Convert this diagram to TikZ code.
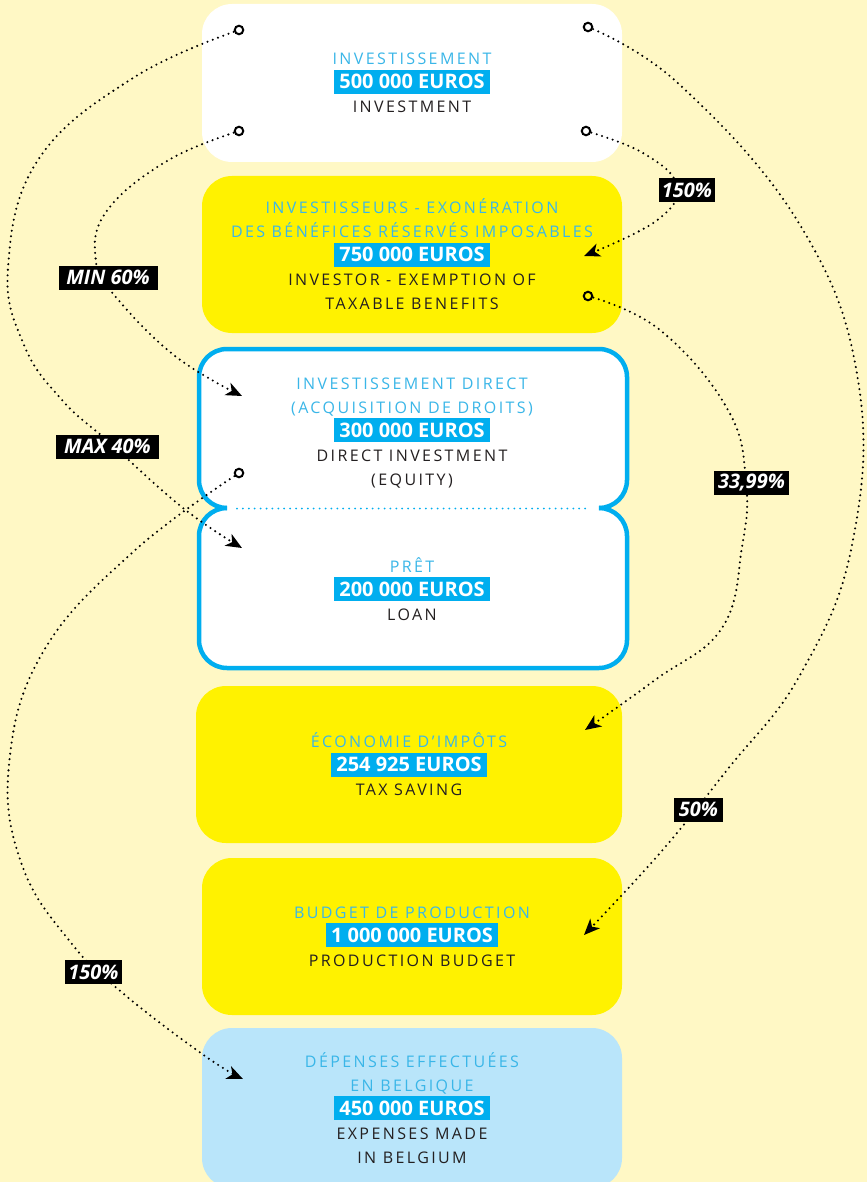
\documentclass[tikz,border=0pt]{standalone}
\usepackage{fontspec}
\setmainfont{Open Sans}
\newfontfamily\spaced[LetterSpace=15]{Open Sans}
\usetikzlibrary{arrows.meta}
\definecolor{bgc}{HTML}{FFF8C5}
\definecolor{yel}{HTML}{FFF200}
\definecolor{lblue}{HTML}{B9E5FA}
\definecolor{hlc}{HTML}{00AEEF}
\definecolor{frc}{HTML}{3AB6E8}
\definecolor{enc}{HTML}{231F20}
\lineskiplimit=-100pt
\newcommand\frl[1]{{\spaced\color{frc}#1}}
\newcommand\enl[1]{{\spaced\color{enc}#1}}
\newcommand\amt[1]{{\setlength\fboxsep{0pt}\colorbox{hlc}{\hspace*{5pt}\rule[-5pt]{0pt}{24pt}\fontsize{20}{24}\selectfont\bfseries\color{white}#1\hspace*{5pt}}}}
\tikzset{
  boxnode/.style={rectangle, rounded corners=30pt, minimum width=420pt, minimum height=158pt, align=center, inner sep=0pt,
    font=\fontsize{16}{24}\selectfont},
  txtnode/.style={align=center, inner sep=0pt, font=\fontsize{16}{24}\selectfont},
  conn/.style={line width=2.3pt, line cap=round, dash pattern=on 0pt off 5.6pt, black, -{Stealth[length=16pt,width=13.5pt,inset=4.5pt]}},
  ring/.style={circle, draw=black, line width=2pt, minimum size=8.5pt, inner sep=0pt},
  pct/.style={fill=black, text=white, font=\fontsize{20}{20}\selectfont\bfseries\itshape, inner xsep=2pt, inner ysep=0pt, minimum height=24pt},
  blueline/.style={draw=hlc, line width=4.5pt, rounded corners=28pt}
}
\begin{document}
\begin{tikzpicture}[x=1pt,y=-1pt]
\fill[bgc] (0,0) rectangle (867,1182);
\useasboundingbox (0,0) rectangle (867,1182);

% boxes
\node[boxnode, fill=white] (inv) at (412,83) {\frl{INVESTISSEMENT}\\ \amt{500 000 EUROS}\\ \enl{INVESTMENT}};
\node[boxnode, fill=yel, minimum height=157pt] (invs) at (412,254.5) {\frl{INVESTISSEURS - EXONÉRATION}\\ \frl{DES BÉNÉFICES RÉSERVÉS IMPOSABLES}\\ \amt{750 000 EUROS}\\ \enl{INVESTOR - EXEMPTION OF}\\ \enl{TAXABLE BENEFITS}};

% direct investment + loan box
\fill[white, rounded corners=28pt] (199,349) rectangle (627,510);
\fill[white, rounded corners=28pt] (199,506) rectangle (627,668);
\draw[blueline] (227,508) -- (199,508) -- (199,349) -- (627,349) -- (627,508) -- (599,508);
\draw[blueline] (227,508) -- (199,508) -- (199,668) -- (627,668) -- (627,508) -- (599,508);
\draw[hlc, line width=2pt, line cap=round, dash pattern=on 0pt off 5.9pt] (237,508.5) -- (590,508.5);
\node[txtnode] (direct) at (412,433) {\frl{INVESTISSEMENT DIRECT}\\ \frl{(ACQUISITION DE DROITS)}\\ \amt{300 000 EUROS}\\ \enl{DIRECT INVESTMENT}\\ \enl{(EQUITY)}};
\node[txtnode] (loan) at (412,589) {\frl{PRÊT}\\ \amt{200 000 EUROS}\\ \enl{LOAN}};

\node[boxnode, fill=yel, minimum width=426pt, minimum height=157pt] (tax) at (409,764.5) {\frl{ÉCONOMIE D’IMPÔTS}\\ \amt{254 925 EUROS}\\ \enl{TAX SAVING}};
\node[boxnode, fill=yel, minimum height=157pt] (budget) at (412,936.5) {\frl{BUDGET DE PRODUCTION}\\ \amt{1 000 000 EUROS}\\ \enl{PRODUCTION BUDGET}};
\node[boxnode, fill=lblue, minimum height=160pt] (exp) at (412,1108) {\frl{DÉPENSES EFFECTUÉES}\\ \frl{EN BELGIQUE}\\ \amt{450 000 EUROS}\\ \enl{EXPENSES MADE}\\ \enl{IN BELGIUM}};

% connector ends
\coordinate (cA) at (239,30);
\coordinate (cB) at (239,131);
\coordinate (cC) at (239,473);
\coordinate (cD) at (588,27);
\coordinate (cE) at (586,131);
\coordinate (cF) at (588,296);
\coordinate (tA) at (242,548);
\coordinate (tB) at (242,396);
\coordinate (tC) at (243,1079);
\coordinate (tD) at (584,935);
\coordinate (tE) at (584,256);
\coordinate (tF) at (585,730);

% connectors
\draw[conn] plot[smooth, tension=0.7] coordinates {(cA) (133,78) (38,160) (8,268) (24,345) (62,400) (110,443) (183,508) (tA)};
\draw[conn] plot[smooth, tension=0.7] coordinates {(cB) (167,161) (106,212) (96,262) (115,296) (175,356) (tB)};
\draw[conn] plot[smooth, tension=0.7] coordinates {(cC) (133,552) (43,652) (9,765) (22,865) (72,944) (125,995) (205,1056) (tC)};
\draw[conn] plot[smooth, tension=0.7] coordinates {(cD) (680,85) (800,225) (858,380) (852,545) (800,675) (727,770) (660,853) (tD)};
\draw[conn] plot[smooth, tension=0.7] coordinates {(cE) (643,153) (677,186) (656,221) (tE)};
\draw[conn] plot[smooth, tension=0.7] coordinates {(cF) (660,330) (728,410) (746,483) (742,547) (722,628) (655,680) (tF)};

% rings
\node[ring, fill=white] (rA) at (cA) {};
\node[ring, fill=white] (rB) at (cB) {};
\node[ring, fill=white] (rC) at (cC) {};
\node[ring, fill=white] (rD) at (cD) {};
\node[ring, fill=white] (rE) at (cE) {};
\node[ring, fill=yel] (rF) at (cF) {};

% labels
\node[pct, minimum width=99pt] (lB) at (108,277.5) {MIN 60\%};
\node[pct, minimum width=103pt] (lA) at (107.5,446.5) {MAX 40\%};
\node[pct, minimum width=56pt] (lE) at (687,190) {150\%};
\node[pct, minimum width=75pt] (lF) at (751.5,482.5) {33,99\%};
\node[pct, minimum width=49pt] (lD) at (698.5,809.5) {50\%};
\node[pct, minimum width=57pt] (lC) at (93.5,972) {150\%};
\end{tikzpicture}
\end{document}
